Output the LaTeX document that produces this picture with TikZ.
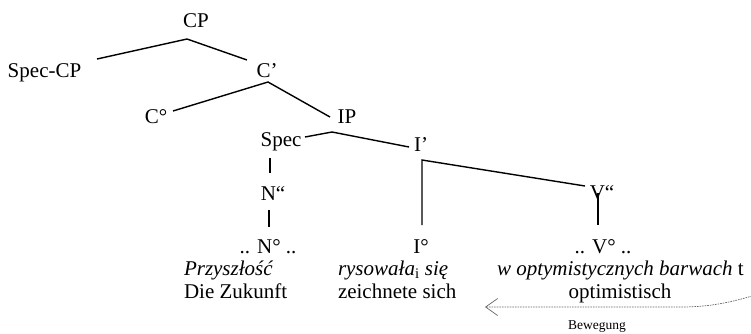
\documentclass[tikz,border=0pt]{standalone}
\usepackage{fontspec}
\setmainfont{Liberation Serif}
\usetikzlibrary{arrows.meta}
\begin{document}
\begin{tikzpicture}[x=1pt,y=-1pt,
  lbl/.style={inner sep=0pt,outer sep=0pt,anchor=base,font=\fontsize{21}{24}\selectfont},
  lblw/.style={lbl,anchor=base west},
  small/.style={inner sep=0pt,anchor=base,font=\fontsize{13.5}{15}\selectfont},
  branch/.style={line width=1.4pt,black},
  movearrow/.style={draw=black!60,line width=0.7pt,dash pattern=on 1.6pt off 1pt,
    -{Straight Barb[length=12pt,width=17pt,line width=0.7pt]}}]
\useasboundingbox (0,0) rectangle (751,333);
% labels
\node[lbl] (cp) at (196,27) {CP};
\node[lbl] (speccp) at (44.5,77) {Spec-CP};
\node[lbl] (cbar) at (267,77) {C’};
\node[lbl] (czero) at (156,123) {C°};
\node[lbl] (ip) at (347,123) {IP};
\node[lbl] (spec) at (281,146) {Spec};
\node[lbl] (ibar) at (421,151) {I’};
\node[lbl] (nbar) at (273,200) {N“};
\node[lbl] (vbar) at (602,199) {V“};
\node[lbl] (nzero) at (268,253) {.. N° ..};
\node[lbl] (izero) at (421,253) {I°};
\node[lbl] (vzero) at (603,253) {.. V° ..};
\node[lblw] (plA) at (184,275) {\itshape Przyszłość};
\node[lblw] (deA) at (184,298) {Die Zukunft};
\node[lblw] (plB) at (338,275) {\itshape rysowała\textsubscript{\upshape i} się};
\node[lblw] (deB) at (338,298) {zeichnete sich};
\node[lblw] (plC) at (497,275) {\textit{w optymistycznych barwach} t};
\node[lbl] (deC) at (620,298) {optimistisch};
\node[small] (bew) at (597,329) {Bewegung};
% branch points
\coordinate (aCP) at (187,39);
\coordinate (eSpecCP) at (97,59);
\coordinate (eCbar) at (247,60);
\coordinate (aCbar) at (268,82);
\coordinate (eCzero) at (173,111);
\coordinate (eIP) at (330,117);
\coordinate (aIP) at (332,132);
\coordinate (eSpec) at (305,137);
\coordinate (eIbar) at (409,147);
\coordinate (sTop) at (270,158);
\coordinate (sBot) at (270,173);
\coordinate (nTop) at (269,210);
\coordinate (nBot) at (269,227);
\coordinate (iBot) at (422,225);
\coordinate (iTop) at (422,160);
\coordinate (eVbar) at (585,186);
\coordinate (vTop) at (598,193);
\coordinate (vBot) at (598,225);
\coordinate (mvS) at (752,296);
\coordinate (mvM) at (680,307);
\coordinate (mvE) at (485,307);
% branches
\draw[branch] (eSpecCP) -- (aCP) -- (eCbar);
\draw[branch] (eCzero) -- (aCbar) -- (eIP);
\draw[branch] (eSpec) -- (aIP) -- (eIbar);
\draw[branch] (sTop) -- (sBot);
\draw[branch] (nTop) -- (nBot);
\draw[branch] (iBot) -- (iTop) -- (eVbar);
\draw[branch] (vTop) -- (vBot);
% movement arrow
\draw[movearrow] (mvS) .. controls (725,304) and (705,307) .. (mvM) -- (mvE);
\end{tikzpicture}
\end{document}
